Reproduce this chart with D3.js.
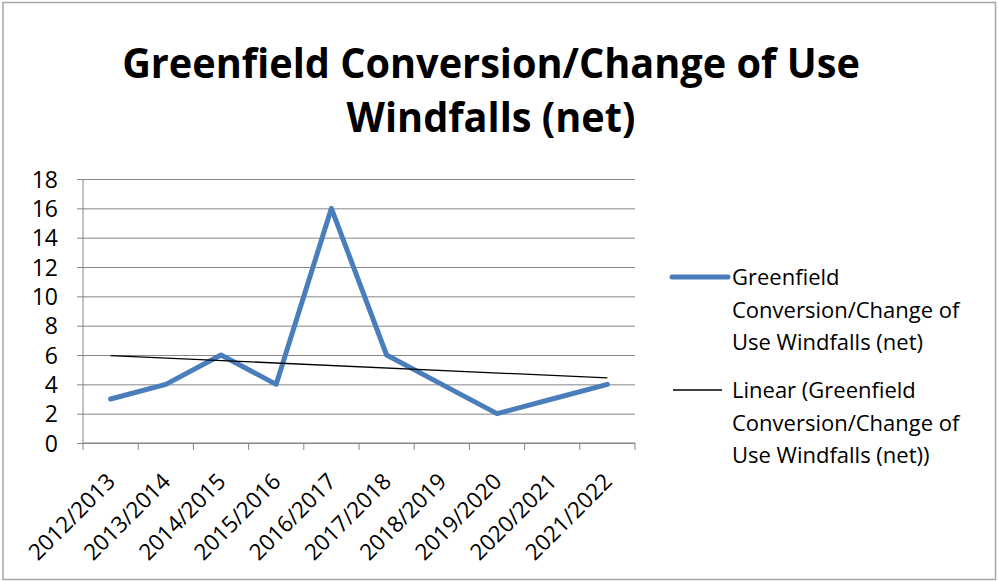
<!DOCTYPE html>
<html>
<head>
<meta charset="utf-8">
<script src="https://cdn.jsdelivr.net/npm/d3@7"></script>
<style>
  body { margin: 0; background: #fff; }
  text { font-family: "Open Sans", "Liberation Sans", Arial, sans-serif; fill: #000; }
  .title { font-weight: bold; }
</style>
</head>
<body>
<div id="chart"></div>
<script>
const periods = ["2012/2013", "2013/2014", "2014/2015", "2015/2016", "2016/2017",
  "2017/2018", "2018/2019", "2019/2020", "2020/2021", "2021/2022"];
const windfalls = [3, 4, 6, 4, 16, 6, 4, 2, 3, 4];
const yTicks = [0, 2, 4, 6, 8, 10, 12, 14, 16, 18];
const titleLines = ["Greenfield Conversion/Change of Use", "Windfalls (net)"];
const seriesName = ["Greenfield", "Conversion/Change of", "Use Windfalls (net)"];
const trendName = ["Linear (Greenfield", "Conversion/Change of", "Use Windfalls (net))"];

const W = 998, H = 581;
const plot = { left: 83, right: 635, top: 179, bottom: 443 };

const svg = d3.select("#chart").append("svg")
  .attr("width", W).attr("height", H);

// chart border
svg.append("rect")
  .attr("x", 3).attr("y", 2.5).attr("width", W - 5.5).attr("height", H - 4)
  .attr("fill", "#fff").attr("stroke", "#a6a6a6").attr("stroke-width", 1.5);

const x = d3.scaleBand().domain(periods).range([plot.left, plot.right]);
const y = d3.scaleLinear().domain([0, 18]).range([plot.bottom, plot.top]);
const cx = d => x(d) + x.bandwidth() / 2;

// title: squeeze horizontally so line 1 spans the same width as the reference
const title = svg.append("g");
titleLines.forEach((t, i) => {
  title.append("text").attr("class", "title")
    .attr("x", 0).attr("y", 0)
    .attr("text-anchor", "middle")
    .style("font-size", "42px")
    .text(t);
});
const sx = 738 / title.select("text").node().getComputedTextLength();
title.selectAll("text")
  .attr("transform", (d, i) => `translate(491,${78 + i * 54}) scale(${sx},1)`);

// gridlines + y axis
const yAxis = svg.append("g")
  .attr("transform", `translate(${plot.left},0)`)
  .call(d3.axisLeft(y).tickValues(yTicks).tickSize(-(plot.right - plot.left)).tickSizeOuter(0).tickPadding(0));
yAxis.select(".domain").remove();
yAxis.selectAll(".tick line").attr("stroke", "#868686").attr("x1", -6);
yAxis.selectAll(".tick text")
  .attr("x", 58 - plot.left).attr("dy", "0.36em")
  .style("font-size", "23px").style("font-family", "'Open Sans', sans-serif");

svg.append("line")
  .attr("x1", plot.left).attr("x2", plot.left)
  .attr("y1", plot.top).attr("y2", plot.bottom)
  .attr("stroke", "#868686");

// x axis
svg.append("line")
  .attr("x1", plot.left).attr("x2", plot.right)
  .attr("y1", plot.bottom).attr("y2", plot.bottom)
  .attr("stroke", "#868686");
svg.append("g").selectAll("line")
  .data(periods.concat([null]))
  .join("line")
  .attr("x1", (d, i) => plot.left + i * x.bandwidth())
  .attr("x2", (d, i) => plot.left + i * x.bandwidth())
  .attr("y1", plot.bottom).attr("y2", plot.bottom + 7)
  .attr("stroke", "#868686");

svg.append("g").selectAll("text")
  .data(periods)
  .join("text")
  .attr("text-anchor", "end")
  .attr("transform", d => `translate(${cx(d) + 6},${plot.bottom + 40}) rotate(-45)`)
  .style("font-size", "22.5px")
  .text(d => d);

// data line
const line = d3.line().x((d, i) => cx(periods[i])).y(d => y(d));
svg.append("path")
  .datum(windfalls)
  .attr("d", line)
  .attr("fill", "none")
  .attr("stroke", "#4a7ebb")
  .attr("stroke-width", 5)
  .attr("stroke-linejoin", "round")
  .attr("stroke-linecap", "round");

// linear trend (least squares on the series)
const xi = windfalls.map((d, i) => i);
const mx = d3.mean(xi), my = d3.mean(windfalls);
const slope = d3.sum(xi, i => (i - mx) * (windfalls[i] - my)) / d3.sum(xi, i => (i - mx) ** 2);
const icpt = my - slope * mx;
const trend = [0, windfalls.length - 1].map(i => [cx(periods[i]), y(icpt + slope * i)]);
svg.append("path")
  .attr("d", d3.line()(trend))
  .attr("fill", "none").attr("stroke", "#000").attr("stroke-width", 1.3);

// legend
const legend = svg.append("g");
legend.append("line")
  .attr("x1", 672).attr("x2", 728).attr("y1", 277).attr("y2", 277)
  .attr("stroke", "#4a7ebb").attr("stroke-width", 5).attr("stroke-linecap", "round");
seriesName.forEach((t, i) => {
  legend.append("text").attr("x", 732).attr("y", 285 + i * 32.5)
    .style("font-size", "22px").text(t);
});
legend.append("line")
  .attr("x1", 673).attr("x2", 722).attr("y1", 390).attr("y2", 390)
  .attr("stroke", "#000").attr("stroke-width", 1.3);
trendName.forEach((t, i) => {
  legend.append("text").attr("x", 732).attr("y", 398 + i * 32.5)
    .style("font-size", "22px").text(t);
});
</script>
</body>
</html>
